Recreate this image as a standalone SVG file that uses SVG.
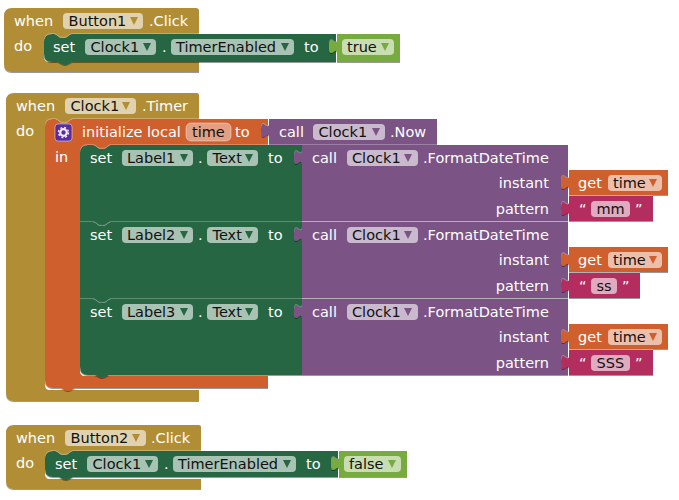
<svg xmlns="http://www.w3.org/2000/svg" width="679" height="500" viewBox="0 0 679 500">
  <style>
    text { font-family: "DejaVu Sans", sans-serif; font-size: 14.5px; fill: #fff; }
    text.f { fill: #111; }
    text.r { text-anchor: end; }
    .ev { fill: #b18e35; }
    .set { fill: #266643; }
    .call { fill: #7c5385; }
    .var { fill: #d05f2d; }
    .str { fill: #b32d5e; }
    .bool { fill: #77ab41; }
    .fld { fill: #fff; fill-opacity: .6; }
    .name { fill: #fff; fill-opacity: .4; stroke: #fff; stroke-opacity: .4; }
    .blk { filter: url(#bevel); }
  </style>
  <defs>
    <!-- darker lower edge and paler upper-left edge on every block -->
    <filter id="bevel" x="-3%" y="-5%" width="106%" height="110%">
      <feOffset in="SourceAlpha" dx=".4" dy="1" result="dn"/>
      <feFlood flood-color="#000" flood-opacity=".4"/>
      <feComposite in2="dn" operator="in" result="shade"/>
      <feOffset in="SourceAlpha" dx="-.5" dy="-.6" result="up"/>
      <feFlood flood-color="#fff" flood-opacity=".25"/>
      <feComposite in2="up" operator="in" result="light"/>
      <feMerge>
        <feMergeNode in="shade"/>
        <feMergeNode in="light"/>
        <feMergeNode in="SourceGraphic"/>
      </feMerge>
    </filter>
    <path id="arrow" d="M-4 -4 H4 L0 4 Z"/>
  </defs>

  <!-- first event handler -->
  <g id="when-button1-click">
    <path class="ev blk" d="M4 16 Q4 8 12 8 H196 Q199 8 199 11 V34 H72 c-3 0 -4 4 -9 4 s-6 -4 -9 -4 H52 Q44 34 44 42 V57 Q44 62 49 62 H199 V72 H12 Q4 72 4 64 Z"/>
    <text x="14" y="26">when</text>
    <rect class="fld" x="63" y="13" width="80" height="16" rx="4"/>
    <text class="f" x="68.500" y="26">Button1</text>
    <use href="#arrow" class="ev" x="134" y="21"/>
    <text x="149" y="26">.Click</text>
    <text x="14" y="51">do</text>
  </g>
  <g id="set-clock1-enabled-true">
    <path class="set blk" d="M52 34 H54 c3 0 4 4 9 4 s6 -4 9 -4 H336 V62 H73 c-3 0 -4 3 -8 3 s-5 -3 -8 -3 H52 Q44 62 44 54 V42 Q44 34 52 34 Z"/>
    <text x="53" y="52">set</text>
    <rect class="fld" x="85" y="39" width="71" height="16" rx="4"/>
    <text class="f" x="90.500" y="52">Clock1</text>
    <use href="#arrow" class="set" x="147" y="47"/>
    <text x="162" y="52">.</text>
    <rect class="fld" x="171" y="39" width="123" height="16" rx="4"/>
    <text class="f" x="176" y="52">TimerEnabled</text>
    <use href="#arrow" class="set" x="285" y="47"/>
    <text x="304" y="52">to</text>
  </g>
  <g id="true-value">
    <path class="bool blk" d="M337 34 V39 c0 10 -8 -8 -8 7.500 s8 -2.500 8 7.500 V62 H400 V34 Z"/>
    <rect class="fld" x="342" y="39" width="52" height="16" rx="4"/>
    <text class="f" x="347" y="52">true</text>
    <use href="#arrow" class="bool" x="385" y="47"/>
  </g>

  <!-- timer handler with its local variable scope -->
  <g id="when-clock1-timer">
    <path class="ev blk" d="M6 101 Q6 93 14 93 H197 Q199 93 199 95 V119 H73 c-3 0 -4 4 -9 4 s-6 -4 -9 -4 H53 Q45 119 45 127 V385 Q45 390 50 390 H199 V401 H14 Q6 401 6 393 Z"/>
    <text x="16" y="111">when</text>
    <rect class="fld" x="65" y="98" width="71" height="16" rx="4"/>
    <text class="f" x="70.500" y="111">Clock1</text>
    <use href="#arrow" class="ev" x="126" y="106"/>
    <text x="142" y="111">.Timer</text>
    <text x="16" y="136">do</text>
  </g>
  <g id="local-time">
    <path class="var blk" d="M53 119 H55 c3 0 4 4 9 4 s6 -4 9 -4 H268 V145 H111 c-3 0 -4 4 -9 4 s-6 -4 -9 -4 H88 Q80 145 80 153 V371 Q80 376 85 376 H268 V388 H76 c-3 0 -4 3 -8 3 s-5 -3 -8 -3 H53 Q45 388 45 380 V127 Q45 119 53 119 Z"/>
    <rect x="55" y="124" width="17" height="17" rx="3" fill="#5a2ca0" stroke="#fff" stroke-opacity=".45"/>
    <circle cx="63.500" cy="132.500" r="3.300" fill="none" stroke="#fff" stroke-opacity=".9" stroke-width="2.200"/>
    <circle cx="63.500" cy="132.500" r="5" fill="none" stroke="#fff" stroke-opacity=".9" stroke-width="1.400" stroke-dasharray="2 1.930"/>
    <text x="82" y="137">initialize local</text>
    <rect x="186" y="123" width="45" height="18" rx="5" class="name"/>
    <text class="f" x="192" y="137">time</text>
    <text x="235" y="137">to</text>
    <text x="55" y="162">in</text>
  </g>
  <g id="call-clock1-now">
    <path class="call blk" d="M269 119 V123 c0 10 -8 -8 -8 7.500 s8 -2.500 8 7.500 V145 H437 V119 Z"/>
    <text x="279" y="137">call</text>
    <rect class="fld" x="313" y="124" width="72" height="16" rx="4"/>
    <text class="f" x="318.500" y="137">Clock1</text>
    <use href="#arrow" class="call" x="376" y="132"/>
    <text x="390" y="137">.Now</text>
  </g>

  <!-- minutes label -->
  <g id="set-label1-text">
    <path class="set blk" d="M88 145 H93 c3 0 4 4 9 4 s6 -4 9 -4 H302 V222 H111 c-3 0 -4 4 -9 4 s-6 -4 -9 -4 H80 V153 Q80 145 88 145 Z"/>
    <text x="90" y="163">set</text>
    <rect class="fld" x="122" y="150" width="71" height="16" rx="4"/>
    <text class="f" x="127" y="163">Label1</text>
    <use href="#arrow" class="set" x="184" y="158"/>
    <text x="198" y="163">.</text>
    <rect class="fld" x="207" y="150" width="51" height="16" rx="4"/>
    <text class="f" x="212.500" y="163">Text</text>
    <use href="#arrow" class="set" x="249" y="158"/>
    <text x="268" y="163">to</text>
  </g>
  <g id="format-minutes">
    <path class="call blk" d="M302 145 V150 c0 10 -8 -8 -8 7.500 s8 -2.500 8 7.500 V221 H568 V145 Z"/>
    <text x="312" y="163">call</text>
    <rect class="fld" x="347" y="150" width="71" height="16" rx="4"/>
    <text class="f" x="352" y="163">Clock1</text>
    <use href="#arrow" class="call" x="408" y="158"/>
    <text x="423" y="163">.FormatDateTime</text>
    <text class="r" x="549" y="188">instant</text>
    <text class="r" x="549" y="214">pattern</text>
  </g>
  <g id="get-time-1">
    <path class="var blk" d="M569 170 V175 c0 10 -8 -8 -8 7.500 s8 -2.500 8 7.500 V195 H668 V170 Z"/>
    <text x="578" y="188">get</text>
    <rect class="fld" x="608" y="175" width="54" height="16" rx="4"/>
    <text class="f" x="613" y="188">time</text>
    <use href="#arrow" class="var" x="653" y="183"/>
  </g>
  <g id="string-mm">
    <path class="str blk" d="M569 196 V201 c0 10 -8 -8 -8 7.500 s8 -2.500 8 7.500 V221 H653 V196 Z"/>
    <text x="579" y="214">“</text>
    <rect class="fld" x="591" y="201" width="39" height="16" rx="4"/>
    <text class="f" x="596.500" y="214">mm</text>
    <text x="635" y="214">”</text>
  </g>

  <!-- seconds label -->
  <g id="set-label2-text">
    <path class="set blk" d="M80 222 H93 c3 0 4 4 9 4 s6 -4 9 -4 H302 V299 H111 c-3 0 -4 4 -9 4 s-6 -4 -9 -4 H80 Z"/>
    <text x="90" y="240">set</text>
    <rect class="fld" x="122" y="227" width="71" height="16" rx="4"/>
    <text class="f" x="127" y="240">Label2</text>
    <use href="#arrow" class="set" x="184" y="235"/>
    <text x="198" y="240">.</text>
    <rect class="fld" x="207" y="227" width="51" height="16" rx="4"/>
    <text class="f" x="212.500" y="240">Text</text>
    <use href="#arrow" class="set" x="249" y="235"/>
    <text x="268" y="240">to</text>
  </g>
  <g id="format-seconds">
    <path class="call blk" d="M302 222 V227 c0 10 -8 -8 -8 7.500 s8 -2.500 8 7.500 V298 H568 V222 Z"/>
    <text x="312" y="240">call</text>
    <rect class="fld" x="347" y="227" width="71" height="16" rx="4"/>
    <text class="f" x="352" y="240">Clock1</text>
    <use href="#arrow" class="call" x="408" y="235"/>
    <text x="423" y="240">.FormatDateTime</text>
    <text class="r" x="549" y="265">instant</text>
    <text class="r" x="549" y="291">pattern</text>
  </g>
  <g id="get-time-2">
    <path class="var blk" d="M569 247 V252 c0 10 -8 -8 -8 7.500 s8 -2.500 8 7.500 V272 H668 V247 Z"/>
    <text x="578" y="265">get</text>
    <rect class="fld" x="608" y="252" width="54" height="16" rx="4"/>
    <text class="f" x="613" y="265">time</text>
    <use href="#arrow" class="var" x="653" y="260"/>
  </g>
  <g id="string-ss">
    <path class="str blk" d="M569 273 V278 c0 10 -8 -8 -8 7.500 s8 -2.500 8 7.500 V298 H640 V273 Z"/>
    <text x="579" y="291">“</text>
    <rect class="fld" x="591" y="278" width="26" height="16" rx="4"/>
    <text class="f" x="596.500" y="291">ss</text>
    <text x="622" y="291">”</text>
  </g>

  <!-- milliseconds label -->
  <g id="set-label3-text">
    <path class="set blk" d="M80 299 H93 c3 0 4 4 9 4 s6 -4 9 -4 H302 V375 H110 c-3 0 -4 3 -8 3 s-5 -3 -8 -3 H88 Q80 375 80 367 Z"/>
    <text x="90" y="317">set</text>
    <rect class="fld" x="122" y="304" width="71" height="16" rx="4"/>
    <text class="f" x="127" y="317">Label3</text>
    <use href="#arrow" class="set" x="184" y="312"/>
    <text x="198" y="317">.</text>
    <rect class="fld" x="207" y="304" width="51" height="16" rx="4"/>
    <text class="f" x="212.500" y="317">Text</text>
    <use href="#arrow" class="set" x="249" y="312"/>
    <text x="268" y="317">to</text>
  </g>
  <g id="format-millis">
    <path class="call blk" d="M302 299 V304 c0 10 -8 -8 -8 7.500 s8 -2.500 8 7.500 V375 H568 V299 Z"/>
    <text x="312" y="317">call</text>
    <rect class="fld" x="347" y="304" width="71" height="16" rx="4"/>
    <text class="f" x="352" y="317">Clock1</text>
    <use href="#arrow" class="call" x="408" y="312"/>
    <text x="423" y="317">.FormatDateTime</text>
    <text class="r" x="549" y="342">instant</text>
    <text class="r" x="549" y="368">pattern</text>
  </g>
  <g id="get-time-3">
    <path class="var blk" d="M569 324 V329 c0 10 -8 -8 -8 7.500 s8 -2.500 8 7.500 V349 H668 V324 Z"/>
    <text x="578" y="342">get</text>
    <rect class="fld" x="608" y="329" width="54" height="16" rx="4"/>
    <text class="f" x="613" y="342">time</text>
    <use href="#arrow" class="var" x="653" y="337"/>
  </g>
  <g id="string-sss">
    <path class="str blk" d="M569 350 V355 c0 10 -8 -8 -8 7.500 s8 -2.500 8 7.500 V375 H653 V350 Z"/>
    <text x="579" y="368">“</text>
    <rect class="fld" x="591" y="355" width="39" height="16" rx="4"/>
    <text class="f" x="596.500" y="368">SSS</text>
    <text x="635" y="368">”</text>
  </g>

  <!-- second event handler -->
  <g id="when-button2-click">
    <path class="ev blk" d="M6 433 Q6 425 14 425 H199 Q201 425 201 427 V451 H73 c-3 0 -4 4 -9 4 s-6 -4 -9 -4 H53 Q45 451 45 459 V474 Q45 479 50 479 H201 V489 H14 Q6 489 6 481 Z"/>
    <text x="16" y="443">when</text>
    <rect class="fld" x="65" y="430" width="81" height="16" rx="4"/>
    <text class="f" x="70.500" y="443">Button2</text>
    <use href="#arrow" class="ev" x="136" y="438"/>
    <text x="151" y="443">.Click</text>
    <text x="16" y="468">do</text>
  </g>
  <g id="set-clock1-enabled-false">
    <path class="set blk" d="M53 451 H55 c3 0 4 4 9 4 s6 -4 9 -4 H338 V477 H74 c-3 0 -4 3 -8 3 s-5 -3 -8 -3 H53 Q45 477 45 469 V459 Q45 451 53 451 Z"/>
    <text x="55" y="469">set</text>
    <rect class="fld" x="87" y="456" width="71" height="16" rx="4"/>
    <text class="f" x="92.500" y="469">Clock1</text>
    <use href="#arrow" class="set" x="149" y="464"/>
    <text x="164" y="469">.</text>
    <rect class="fld" x="173" y="456" width="123" height="16" rx="4"/>
    <text class="f" x="178" y="469">TimerEnabled</text>
    <use href="#arrow" class="set" x="287" y="464"/>
    <text x="306" y="469">to</text>
  </g>
  <g id="false-value">
    <path class="bool blk" d="M339 451 V456 c0 10 -8 -8 -8 7.500 s8 -2.500 8 7.500 V477 H407 V451 Z"/>
    <rect class="fld" x="344" y="456" width="57" height="16" rx="4"/>
    <text class="f" x="349" y="469">false</text>
    <use href="#arrow" class="bool" x="392" y="464"/>
  </g>
</svg>
